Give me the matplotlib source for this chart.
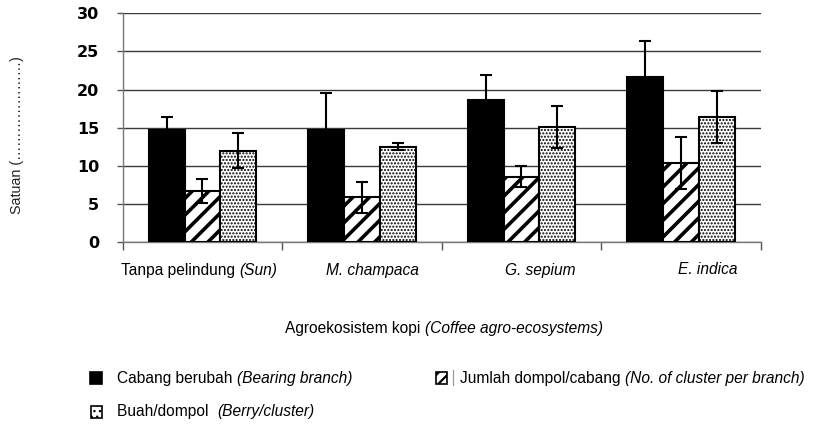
import matplotlib
matplotlib.use("Agg")
import matplotlib.pyplot as plt
import numpy as np
from matplotlib import font_manager
from matplotlib.offsetbox import TextArea, HPacker, AnnotationBbox
from matplotlib.patches import Rectangle

# ---------------- data ----------------
category_plain = ["Tanpa pelindung ", "", "", ""]
category_italic = ["(Sun)", "M. champaca", "G. sepium", "E. indica"]
series_plain = ["Cabang berubah ", "Jumlah dompol/cabang ", "Buah/dompol  "]
series_italic = ["(Bearing branch)", "(No. of cluster per branch)", "(Berry/cluster)"]

bearing_branch = [14.7, 14.7, 18.6, 21.7]
bearing_branch_err = [1.7, 4.9, 3.3, 4.7]
cluster_per_branch = [6.7, 5.9, 8.6, 10.4]
cluster_per_branch_err = [1.6, 2.05, 1.4, 3.4]
berry_per_cluster = [12.0, 12.5, 15.1, 16.4]
berry_per_cluster_err = [2.3, 0.45, 2.8, 3.45]

y_ticks = [0, 5, 10, 15, 20, 25, 30]
x_title_plain = "Agroekosistem kopi "
x_title_italic = "(Coffee agro-ecosystems)"
y_title = "Satuan (" + "\u2026" * 7 + ")"

# ---------------- fonts ----------------
names = {f.name for f in font_manager.fontManager.ttflist}
NARROW = "Liberation Sans Narrow" if "Liberation Sans Narrow" in names else "Liberation Sans"
LBL_SIZE = 12.3 if NARROW == "Liberation Sans Narrow" else 11.2

W, H = 819, 426
fig = plt.figure(figsize=(W / 100, H / 100), dpi=100)
ax = fig.add_axes([122.7 / W, 1 - 242.3 / H, (760.7 - 122.7) / W, (242.3 - 13.3) / H])

x = np.arange(len(bearing_branch))
bw = 0.224
values = [bearing_branch, cluster_per_branch, berry_per_cluster]
errors = [bearing_branch_err, cluster_per_branch_err, berry_per_cluster_err]
faces = ["black", "white", "white"]
hatches = [None, "//", "....."]
hatch_lws = [1.0, 2.6, 1.0]

for i, (v, e, fc, h, hl) in enumerate(zip(values, errors, faces, hatches, hatch_lws)):
    plt.rcParams["hatch.linewidth"] = hl
    ax.bar(x + (i - 1) * bw, v, width=bw, color=fc, edgecolor="black",
           linewidth=1.5, hatch=h, zorder=3)
    ax.errorbar(x + (i - 1) * bw, v, yerr=e, fmt="none", ecolor="black",
                elinewidth=1.5, capsize=4, capthick=1.5, zorder=4)

ax.set_xlim(-0.5, len(x) - 0.5)
ax.set_ylim(0, 30)
ax.set_yticks(y_ticks)
ax.set_yticklabels([str(t) for t in y_ticks], fontfamily="DejaVu Sans",
                   fontweight="bold", fontsize=11.5)
ax.tick_params(axis="y", length=4.3, width=1, color="#555555", pad=12.5)
ax.yaxis.grid(True, color="#3a3a3a", linewidth=1.0, zorder=0)
ax.set_axisbelow(True)
ax.set_xticks(np.arange(-0.5, len(x), 1.0))
ax.set_xticklabels([])
ax.tick_params(axis="x", length=6, width=1, color="#555555")
for s in ["top", "right"]:
    ax.spines[s].set_visible(False)
for s in ["left", "bottom"]:
    ax.spines[s].set_color("#777777")
    ax.spines[s].set_linewidth(1.0)
ax.spines["left"].set_zorder(1)


def mixed(parts, xy_px, align, size=LBL_SIZE, family=NARROW):
    areas = [TextArea(t, textprops=dict(family=family, size=size, style=st, color="black"))
             for t, st in parts if t]
    box = HPacker(children=areas, align="baseline", pad=0, sep=0)
    ab = AnnotationBbox(box, (xy_px[0] / W, 1 - xy_px[1] / H), xycoords="figure fraction",
                        box_alignment=align, frameon=False, pad=0)
    fig.add_artist(ab)


# category labels (manually placed text boxes in the original)
label_centers_px = [199, 372.5, 540, 708]
for cx, p, it in zip(label_centers_px, category_plain, category_italic):
    mixed([(p, "normal"), (it, "italic")], (cx, 270), (0.5, 0.5))

mixed([(x_title_plain, "normal"), (x_title_italic, "italic")], (444, 329), (0.5, 0.5))

fig.text(17 / W, 1 - 135 / H, y_title, rotation=90, ha="center", va="center",
         family="Liberation Sans", fontsize=10.3, color="#222222")

# legend
leg_squares_px = [(90, 372), (436, 372), (90.5, 405.5)]
leg_text_px = [(117, 378.5), (460, 378.5), (117, 411.5)]
for i, ((sx, sy), (tx, ty)) in enumerate(zip(leg_squares_px, leg_text_px)):
    plt.rcParams["hatch.linewidth"] = [1.0, 1.6, 0.9][i]
    r = Rectangle((sx / W, 1 - (sy + 12) / H), 11.5 / W, 12 / H, transform=fig.transFigure,
                  facecolor=faces[i], edgecolor="black", linewidth=1.2,
                  hatch=[None, "///", "..."][i])
    fig.add_artist(r)
    mixed([(series_plain[i], "normal"), (series_italic[i], "italic")], (tx, ty), (0.0, 0.5))

fig.text(453 / W, 1 - 378 / H, "|", ha="center", va="center", color="#999999",
         fontsize=11, family="DejaVu Sans")

fig.savefig("out.png", dpi=100)
